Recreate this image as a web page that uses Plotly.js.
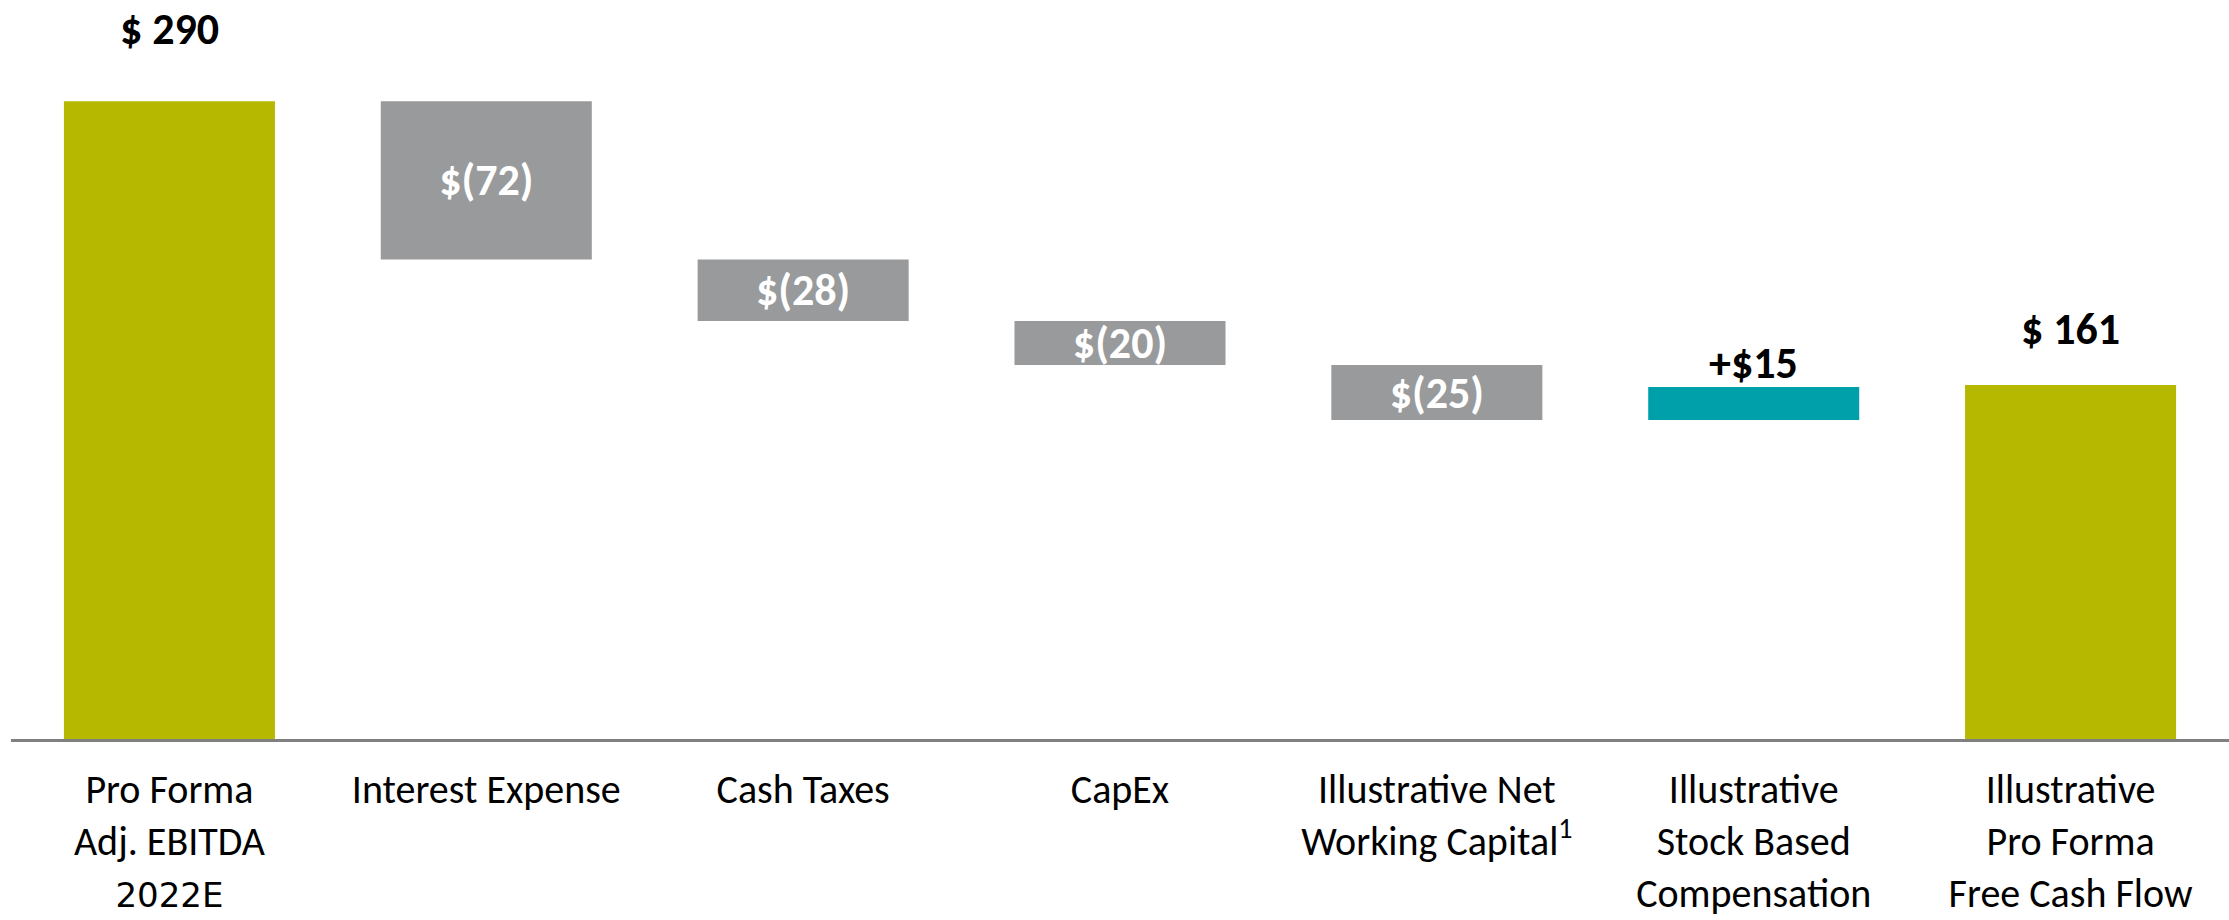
<!DOCTYPE html>
<html>
<head>
<meta charset="utf-8">
<script src="https://cdn.plot.ly/plotly-3.0.1.min.js"></script>
<style>
html,body{margin:0;padding:0;background:#fff;}
#chart{width:2229px;height:920px;}
</style>
</head>
<body>
<div id="chart"></div>
<script>
// ---- data ----
const categories = [
  "Pro Forma<br>Adj. EBITDA<br><span style=\"font-family:'DejaVu Sans';font-size:34px\">2022E</span>",
  "Interest Expense",
  "Cash Taxes",
  "CapEx",
  "Illustrative Net<br>Working Capital<sup>1</sup>",
  "Illustrative<br>Stock Based<br>Compensation",
  "Illustrative<br>Pro Forma<br>Free Cash Flow"
];
const measures = ["absolute", "relative", "relative", "relative", "relative", "relative", "absolute"];
const values = [290, -72, -28, -20, -25, 15, 161];
const valueLabels = ["$ 290", "$(72)", "$(28)", "$(20)", "$(25)", "+$15", "$ 161"];
const labelInside = [false, true, true, true, true, false, false];

// ---- styles ----
const FONT = "Carlito, Lato, sans-serif";
const OLIVE = "#B6B800";
const GRAY = "#999A9C";
const TEAL = "#00A0AA";
const labelShift = [72, 0, 0, 0, 0, 24, 56];

// compute bar tops for outside labels
const tops = [];
let run = 0;
for (let i = 0; i < values.length; i++) {
  if (measures[i] === "absolute") { run = values[i]; tops.push(values[i]); }
  else { const prev = run; run += values[i]; tops.push(Math.max(prev, run)); }
}

const annotations = [];
valueLabels.forEach((t, i) => {
  if (!labelInside[i]) {
    annotations.push({
      x: i, y: tops[i], xref: "x", yref: "y",
      text: "<b>" + t + "</b>", showarrow: false,
      yshift: labelShift[i], yanchor: "middle",
      font: {family: FONT, size: 44, color: "#000"}
    });
  }
});

const trace = {
  type: "waterfall",
  x: categories.map((c, i) => i),
  y: values,
  measure: measures,
  text: valueLabels.map((t, i) => labelInside[i] ? t : ""),
  texttemplate: labelInside.map(b => b ? "<b>%{text}</b>" : ""),
  textposition: labelInside.map(b => b ? "inside" : "none"),
  insidetextanchor: "middle",
  constraintext: "none",
  textangle: 0,
  insidetextfont: {family: FONT, size: 44, color: "#fff"},
  connector: {visible: false},
  increasing: {marker: {color: TEAL}},
  decreasing: {marker: {color: GRAY}},
  totals: {marker: {color: OLIVE}},
  hoverinfo: "none"
};

const layout = {
  width: 2229, height: 920,
  margin: {l: 11, r: 0, t: 0, b: 181},
  paper_bgcolor: "#fff", plot_bgcolor: "#fff",
  showlegend: false,
  waterfallgap: 0.334,
  font: {family: FONT, color: "#000"},
  xaxis: {
    tickmode: "array",
    tickvals: categories.map((c, i) => i),
    ticktext: categories,
    range: [-0.5, 6.5],
    tickangle: 0,
    showline: true, linecolor: "#808080", linewidth: 3,
    showgrid: false, zeroline: false,
    ticks: "", ticklabelstandoff: 13,
    tickfont: {family: FONT, size: 40, color: "#000"}
  },
  yaxis: {
    range: [0, 336],
    showgrid: false, zeroline: false, showline: false,
    showticklabels: false, ticks: ""
  },
  annotations: annotations
};

Plotly.newPlot("chart", [trace], layout, {displayModeBar: false, staticPlot: true});
</script>
</body>
</html>
